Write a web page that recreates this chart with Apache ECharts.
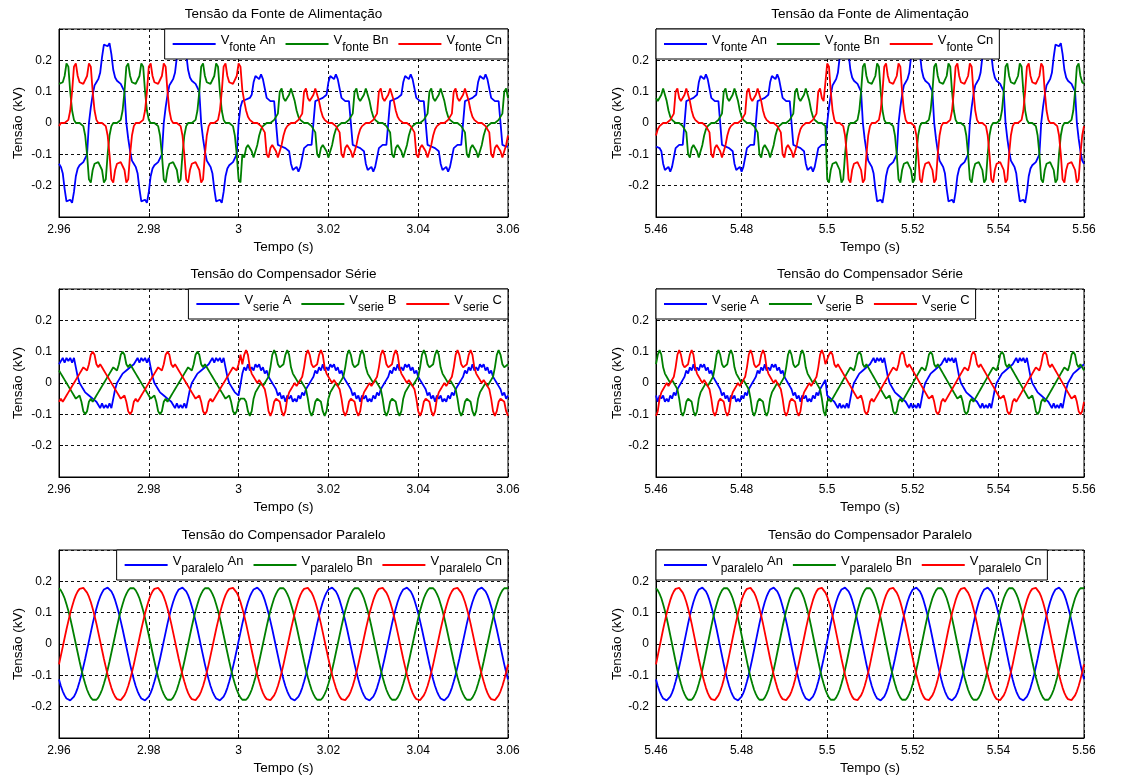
<!DOCTYPE html>
<html><head><meta charset="utf-8">
<script src="https://cdn.jsdelivr.net/npm/echarts@6/dist/echarts.min.js"></script>
<style>html,body{margin:0;padding:0;background:#fff}#c{width:1137px;height:778px}</style>
</head><body><div id="c"></div>
<script>
// sample spacing of all waveforms (s) and start times of the two columns
const DT = 1 / 2400;
const T0_LEFT = 2.96, T0_RIGHT = 5.46;
const X_TICK_STEP = 0.02;
const Y_TICKS = [-0.2, -0.1, 0, 0.1, 0.2];

// ---------- Tensão da Fonte de Alimentação (kV) ----------
const fonteLeftA = [
-.13,-.14,-.16,-.21,-.25,-.255,-.245,-.255,-.22,-.17,
-.145,-.135,-.13,-.125,-.12,-.1,0,.05,.09,.12,
.13,.14,.16,.21,.25,.255,.245,.255,.22,.17,
.145,.135,.13,.125,.12,.1,0,-.05,-.09,-.12,
-.13,-.14,-.16,-.21,-.25,-.255,-.245,-.255,-.22,-.17,
-.145,-.135,-.13,-.125,-.12,-.1,0,.05,.09,.12,
.13,.14,.16,.21,.25,.255,.245,.255,.22,.17,
.145,.135,.13,.125,.12,.1,0,-.05,-.09,-.12,
-.13,-.14,-.16,-.21,-.25,-.255,-.245,-.255,-.22,-.17,
-.145,-.135,-.13,-.125,-.12,-.1,0,.05,.07,.075,
.075,.08,.08,.09,.13,.15,.155,.14,.155,.14,
.11,.08,.075,.07,.075,.07,.07,-.07,-.07,-.075,
-.075,-.08,-.08,-.09,-.13,-.15,-.155,-.14,-.155,-.14,
-.11,-.08,-.075,-.07,-.075,-.07,-.07,.07,.07,.075,
.075,.08,.08,.09,.13,.15,.155,.14,.155,.14,
.11,.08,.075,.07,.075,.07,.07,-.07,-.07,-.075,
-.075,-.08,-.08,-.09,-.13,-.15,-.155,-.14,-.155,-.14,
-.11,-.08,-.075,-.07,-.075,-.07,-.07,.07,.07,.075,
.075,.08,.08,.09,.13,.15,.155,.14,.155,.14,
.11,.08,.075,.07,.075,.07,.07,-.07,-.07,-.075,
-.075,-.08,-.08,-.09,-.13,-.15,-.155,-.14,-.155,-.14,
-.11,-.08,-.075,-.07,-.075,-.07,-.07,.07,.07,.075,
.075,.08,.08,.09,.13,.15,.155,.14,.155,.14,
.11,.08,.075,.07,.075,.07,.07,-.07,-.07,-.075,
-.075];
const fonteLeftB = [
.125,.125,.13,.15,.19,.18,.1,.04,.01,0,
0,0,0,-.01,-.04,-.1,-.18,-.19,-.15,-.13,
-.125,-.125,-.13,-.15,-.19,-.18,-.1,-.04,-.01,0,
0,0,0,.01,.04,.1,.18,.19,.15,.13,
.125,.125,.13,.15,.19,.18,.1,.04,.01,0,
0,0,0,-.01,-.04,-.1,-.18,-.19,-.15,-.13,
-.125,-.125,-.13,-.15,-.19,-.18,-.1,-.04,-.01,0,
0,0,0,.01,.04,.1,.18,.19,.15,.13,
.125,.125,.13,.15,.19,.18,.1,.04,.01,0,
0,0,0,-.01,-.04,-.1,-.18,-.19,-.1,-.11,
-.08,-.07,-.075,-.09,-.11,-.105,-.07,-.04,-.02,-.01,
-.005,0,0,0,.005,.01,.01,.03,.1,.11,
.08,.07,.075,.09,.11,.105,.07,.04,.02,.01,
.005,0,0,0,-.005,-.01,-.01,-.03,-.1,-.11,
-.08,-.07,-.075,-.09,-.11,-.105,-.07,-.04,-.02,-.01,
-.005,0,0,0,.005,.01,.01,.03,.1,.11,
.08,.07,.075,.09,.11,.105,.07,.04,.02,.01,
.005,0,0,0,-.005,-.01,-.01,-.03,-.1,-.11,
-.08,-.07,-.075,-.09,-.11,-.105,-.07,-.04,-.02,-.01,
-.005,0,0,0,.005,.01,.01,.03,.1,.11,
.08,.07,.075,.09,.11,.105,.07,.04,.02,.01,
.005,0,0,0,-.005,-.01,-.01,-.03,-.1,-.11,
-.08,-.07,-.075,-.09,-.11,-.105,-.07,-.04,-.02,-.01,
-.005,0,0,0,.005,.01,.01,.03,.1,.11,
.08];
const fonteLeftC = [
-.01,0,0,0,0,.01,.04,.1,.18,.19,
.15,.13,.125,.125,.13,.15,.19,.18,.1,.04,
.01,0,0,0,0,-.01,-.04,-.1,-.18,-.19,
-.15,-.13,-.125,-.125,-.13,-.15,-.19,-.18,-.1,-.04,
-.01,0,0,0,0,.01,.04,.1,.18,.19,
.15,.13,.125,.125,.13,.15,.19,.18,.1,.04,
.01,0,0,0,0,-.01,-.04,-.1,-.18,-.19,
-.15,-.13,-.125,-.125,-.13,-.15,-.19,-.18,-.1,-.04,
-.01,0,0,0,0,.01,.04,.1,.18,.19,
.15,.13,.125,.125,.13,.15,.19,.18,.105,.07,
.04,.02,.01,.005,0,0,0,-.005,-.01,-.01,
-.03,-.1,-.11,-.08,-.07,-.075,-.09,-.11,-.105,-.07,
-.04,-.02,-.01,-.005,0,0,0,.005,.01,.01,
.03,.1,.11,.08,.07,.075,.09,.11,.105,.07,
.04,.02,.01,.005,0,0,0,-.005,-.01,-.01,
-.03,-.1,-.11,-.08,-.07,-.075,-.09,-.11,-.105,-.07,
-.04,-.02,-.01,-.005,0,0,0,.005,.01,.01,
.03,.1,.11,.08,.07,.075,.09,.11,.105,.07,
.04,.02,.01,.005,0,0,0,-.005,-.01,-.01,
-.03,-.1,-.11,-.08,-.07,-.075,-.09,-.11,-.105,-.07,
-.04,-.02,-.01,-.005,0,0,0,.005,.01,.01,
.03,.1,.11,.08,.07,.075,.09,.11,.105,.07,
.04,.02,.01,.005,0,0,0,-.005,-.01,-.01,
-.03,-.1,-.11,-.08,-.07,-.075,-.09,-.11,-.105,-.07,
-.04];
const fonteRightA = [
-.075,-.08,-.08,-.09,-.13,-.15,-.155,-.14,-.155,-.14,
-.11,-.08,-.075,-.07,-.075,-.07,-.07,.07,.07,.075,
.075,.08,.08,.09,.13,.15,.155,.14,.155,.14,
.11,.08,.075,.07,.075,.07,.07,-.07,-.07,-.075,
-.075,-.08,-.08,-.09,-.13,-.15,-.155,-.14,-.155,-.14,
-.11,-.08,-.075,-.07,-.075,-.07,-.07,.07,.07,.075,
.075,.08,.08,.09,.13,.15,.155,.14,.155,.14,
.11,.08,.075,.07,.075,.07,.07,-.07,-.07,-.075,
-.075,-.08,-.08,-.09,-.13,-.15,-.155,-.14,-.155,-.14,
-.11,-.08,-.075,-.07,-.075,-.07,0,.05,.09,.12,
.13,.14,.16,.21,.25,.255,.245,.255,.22,.17,
.145,.135,.13,.125,.12,.1,0,-.05,-.09,-.12,
-.13,-.14,-.16,-.21,-.25,-.255,-.245,-.255,-.22,-.17,
-.145,-.135,-.13,-.125,-.12,-.1,0,.05,.09,.12,
.13,.14,.16,.21,.25,.255,.245,.255,.22,.17,
.145,.135,.13,.125,.12,.1,0,-.05,-.09,-.12,
-.13,-.14,-.16,-.21,-.25,-.255,-.245,-.255,-.22,-.17,
-.145,-.135,-.13,-.125,-.12,-.1,0,.05,.09,.12,
.13,.14,.16,.21,.25,.255,.245,.255,.22,.17,
.145,.135,.13,.125,.12,.1,0,-.05,-.09,-.12,
-.13,-.14,-.16,-.21,-.25,-.255,-.245,-.255,-.22,-.17,
-.145,-.135,-.13,-.125,-.12,-.1,0,.05,.09,.12,
.13,.14,.16,.21,.25,.255,.245,.255,.22,.17,
.145,.135,.13,.125,.12,.1,0,-.05,-.09,-.12,
-.13];
const fonteRightB = [
.08,.07,.075,.09,.11,.105,.07,.04,.02,.01,
.005,0,0,0,-.005,-.01,-.01,-.03,-.1,-.11,
-.08,-.07,-.075,-.09,-.11,-.105,-.07,-.04,-.02,-.01,
-.005,0,0,0,.005,.01,.01,.03,.1,.11,
.08,.07,.075,.09,.11,.105,.07,.04,.02,.01,
.005,0,0,0,-.005,-.01,-.01,-.03,-.1,-.11,
-.08,-.07,-.075,-.09,-.11,-.105,-.07,-.04,-.02,-.01,
-.005,0,0,0,.005,.01,.01,.03,.1,.11,
.08,.07,.075,.09,.11,.105,.07,.04,.02,.01,
.005,0,0,0,-.005,-.01,-.18,-.19,-.15,-.13,
-.125,-.125,-.13,-.15,-.19,-.18,-.1,-.04,-.01,0,
0,0,0,.01,.04,.1,.18,.19,.15,.13,
.125,.125,.13,.15,.19,.18,.1,.04,.01,0,
0,0,0,-.01,-.04,-.1,-.18,-.19,-.15,-.13,
-.125,-.125,-.13,-.15,-.19,-.18,-.1,-.04,-.01,0,
0,0,0,.01,.04,.1,.18,.19,.15,.13,
.125,.125,.13,.15,.19,.18,.1,.04,.01,0,
0,0,0,-.01,-.04,-.1,-.18,-.19,-.15,-.13,
-.125,-.125,-.13,-.15,-.19,-.18,-.1,-.04,-.01,0,
0,0,0,.01,.04,.1,.18,.19,.15,.13,
.125,.125,.13,.15,.19,.18,.1,.04,.01,0,
0,0,0,-.01,-.04,-.1,-.18,-.19,-.15,-.13,
-.125,-.125,-.13,-.15,-.19,-.18,-.1,-.04,-.01,0,
0,0,0,.01,.04,.1,.18,.19,.15,.13,
.125];
const fonteRightC = [
-.04,-.02,-.01,-.005,0,0,0,.005,.01,.01,
.03,.1,.11,.08,.07,.075,.09,.11,.105,.07,
.04,.02,.01,.005,0,0,0,-.005,-.01,-.01,
-.03,-.1,-.11,-.08,-.07,-.075,-.09,-.11,-.105,-.07,
-.04,-.02,-.01,-.005,0,0,0,.005,.01,.01,
.03,.1,.11,.08,.07,.075,.09,.11,.105,.07,
.04,.02,.01,.005,0,0,0,-.005,-.01,-.01,
-.03,-.1,-.11,-.08,-.07,-.075,-.09,-.11,-.105,-.07,
-.04,-.02,-.01,-.005,0,0,0,.005,.01,.01,
.03,.1,.11,.08,.07,.075,.19,.18,.1,.04,
.01,0,0,0,0,-.01,-.04,-.1,-.18,-.19,
-.15,-.13,-.125,-.125,-.13,-.15,-.19,-.18,-.1,-.04,
-.01,0,0,0,0,.01,.04,.1,.18,.19,
.15,.13,.125,.125,.13,.15,.19,.18,.1,.04,
.01,0,0,0,0,-.01,-.04,-.1,-.18,-.19,
-.15,-.13,-.125,-.125,-.13,-.15,-.19,-.18,-.1,-.04,
-.01,0,0,0,0,.01,.04,.1,.18,.19,
.15,.13,.125,.125,.13,.15,.19,.18,.1,.04,
.01,0,0,0,0,-.01,-.04,-.1,-.18,-.19,
-.15,-.13,-.125,-.125,-.13,-.15,-.19,-.18,-.1,-.04,
-.01,0,0,0,0,.01,.04,.1,.18,.19,
.15,.13,.125,.125,.13,.15,.19,.18,.1,.04,
.01,0,0,0,0,-.01,-.04,-.1,-.18,-.19,
-.15,-.13,-.125,-.125,-.13,-.15,-.19,-.18,-.1,-.04,
-.01];

// ---------- Tensão do Compensador Série (kV) ----------
const serieLeftA = [
.06,.06,.08,.065,.08,.07,.08,.065,.08,.05,
.02,0,-.01,-.02,-.03,-.03,-.04,-.04,-.05,-.05,
-.06,-.06,-.08,-.065,-.08,-.07,-.08,-.065,-.08,-.05,
-.02,0,.01,.02,.03,.03,.04,.04,.05,.05,
.06,.06,.08,.065,.08,.07,.08,.065,.08,.05,
.02,0,-.01,-.02,-.03,-.03,-.04,-.04,-.05,-.05,
-.06,-.06,-.08,-.065,-.08,-.07,-.08,-.065,-.08,-.05,
-.02,0,.01,.02,.03,.03,.04,.04,.05,.05,
.06,.06,.08,.065,.08,.07,.08,.065,.08,.05,
.02,0,-.01,-.02,-.03,-.03,-.04,-.04,.03,.05,
.04,.06,.04,.05,.04,.06,.05,.06,.04,.05,
.03,.04,.02,.01,0,-.01,-.02,-.04,-.03,-.05,
-.04,-.06,-.04,-.05,-.04,-.06,-.05,-.06,-.04,-.05,
-.03,-.04,-.02,-.01,0,.01,.02,.04,.03,.05,
.04,.06,.04,.05,.04,.06,.05,.06,.04,.05,
.03,.04,.02,.01,0,-.01,-.02,-.04,-.03,-.05,
-.04,-.06,-.04,-.05,-.04,-.06,-.05,-.06,-.04,-.05,
-.03,-.04,-.02,-.01,0,.01,.02,.04,.03,.05,
.04,.06,.04,.05,.04,.06,.05,.06,.04,.05,
.03,.04,.02,.01,0,-.01,-.02,-.04,-.03,-.05,
-.04,-.06,-.04,-.05,-.04,-.06,-.05,-.06,-.04,-.05,
-.03,-.04,-.02,-.01,0,.01,.02,.04,.03,.05,
.04,.06,.04,.05,.04,.06,.05,.06,.04,.05,
.03,.04,.02,.01,0,-.01,-.02,-.04,-.03,-.05,
-.04];
const serieLeftB = [
.04,.03,.02,.01,0,-.01,-.02,-.03,-.04,-.05,
-.05,-.04,-.06,-.09,-.1,-.09,-.06,-.05,-.06,-.05,
-.04,-.03,-.02,-.01,0,.01,.02,.03,.04,.05,
.05,.04,.06,.09,.1,.09,.06,.05,.06,.05,
.04,.03,.02,.01,0,-.01,-.02,-.03,-.04,-.05,
-.05,-.04,-.06,-.09,-.1,-.09,-.06,-.05,-.06,-.05,
-.04,-.03,-.02,-.01,0,.01,.02,.03,.04,.05,
.05,.04,.06,.09,.1,.09,.06,.05,.06,.05,
.04,.03,.02,.01,0,-.01,-.02,-.03,-.04,-.05,
-.05,-.04,-.06,-.09,-.1,-.09,-.06,-.05,-.05,-.05,
-.06,-.09,-.105,-.09,-.05,-.03,-.02,-.01,0,-.01,
0,.01,.02,.05,.09,.105,.09,.06,.05,.05,
.06,.09,.105,.09,.05,.03,.02,.01,0,.01,
0,-.01,-.02,-.05,-.09,-.105,-.09,-.06,-.05,-.05,
-.06,-.09,-.105,-.09,-.05,-.03,-.02,-.01,0,-.01,
0,.01,.02,.05,.09,.105,.09,.06,.05,.05,
.06,.09,.105,.09,.05,.03,.02,.01,0,.01,
0,-.01,-.02,-.05,-.09,-.105,-.09,-.06,-.05,-.05,
-.06,-.09,-.105,-.09,-.05,-.03,-.02,-.01,0,-.01,
0,.01,.02,.05,.09,.105,.09,.06,.05,.05,
.06,.09,.105,.09,.05,.03,.02,.01,0,.01,
0,-.01,-.02,-.05,-.09,-.105,-.09,-.06,-.05,-.05,
-.06,-.09,-.105,-.09,-.05,-.03,-.02,-.01,0,-.01,
0,.01,.02,.05,.09,.105,.09,.06,.05,.05,
.06];
const serieLeftC = [
-.06,-.05,-.06,-.05,-.04,-.03,-.02,-.01,0,.01,
.02,.03,.04,.05,.05,.04,.06,.09,.1,.09,
.06,.05,.06,.05,.04,.03,.02,.01,0,-.01,
-.02,-.03,-.04,-.05,-.05,-.04,-.06,-.09,-.1,-.09,
-.06,-.05,-.06,-.05,-.04,-.03,-.02,-.01,0,.01,
.02,.03,.04,.05,.05,.04,.06,.09,.1,.09,
.06,.05,.06,.05,.04,.03,.02,.01,0,-.01,
-.02,-.03,-.04,-.05,-.05,-.04,-.06,-.09,-.1,-.09,
-.06,-.05,-.06,-.05,-.04,-.03,-.02,-.01,0,.01,
.02,.03,.04,.05,.05,.04,.06,.09,.06,.09,
.105,.09,.05,.03,.02,.01,0,.01,0,-.01,
-.02,-.05,-.09,-.105,-.09,-.06,-.05,-.05,-.06,-.09,
-.105,-.09,-.05,-.03,-.02,-.01,0,-.01,0,.01,
.02,.05,.09,.105,.09,.06,.05,.05,.06,.09,
.105,.09,.05,.03,.02,.01,0,.01,0,-.01,
-.02,-.05,-.09,-.105,-.09,-.06,-.05,-.05,-.06,-.09,
-.105,-.09,-.05,-.03,-.02,-.01,0,-.01,0,.01,
.02,.05,.09,.105,.09,.06,.05,.05,.06,.09,
.105,.09,.05,.03,.02,.01,0,.01,0,-.01,
-.02,-.05,-.09,-.105,-.09,-.06,-.05,-.05,-.06,-.09,
-.105,-.09,-.05,-.03,-.02,-.01,0,-.01,0,.01,
.02,.05,.09,.105,.09,.06,.05,.05,.06,.09,
.105,.09,.05,.03,.02,.01,0,.01,0,-.01,
-.02,-.05,-.09,-.105,-.09,-.06,-.05,-.05,-.06,-.09,
-.105];
const serieRightA = [
-.04,-.06,-.04,-.05,-.04,-.06,-.05,-.06,-.04,-.05,
-.03,-.04,-.02,-.01,0,.01,.02,.04,.03,.05,
.04,.06,.04,.05,.04,.06,.05,.06,.04,.05,
.03,.04,.02,.01,0,-.01,-.02,-.04,-.03,-.05,
-.04,-.06,-.04,-.05,-.04,-.06,-.05,-.06,-.04,-.05,
-.03,-.04,-.02,-.01,0,.01,.02,.04,.03,.05,
.04,.06,.04,.05,.04,.06,.05,.06,.04,.05,
.03,.04,.02,.01,0,-.01,-.02,-.04,-.03,-.05,
-.04,-.06,-.04,-.05,-.04,-.06,-.05,-.06,-.04,-.05,
-.03,-.04,-.02,-.01,0,.01,-.04,-.04,-.05,-.05,
-.06,-.06,-.08,-.065,-.08,-.07,-.08,-.065,-.08,-.05,
-.02,0,.01,.02,.03,.03,.04,.04,.05,.05,
.06,.06,.08,.065,.08,.07,.08,.065,.08,.05,
.02,0,-.01,-.02,-.03,-.03,-.04,-.04,-.05,-.05,
-.06,-.06,-.08,-.065,-.08,-.07,-.08,-.065,-.08,-.05,
-.02,0,.01,.02,.03,.03,.04,.04,.05,.05,
.06,.06,.08,.065,.08,.07,.08,.065,.08,.05,
.02,0,-.01,-.02,-.03,-.03,-.04,-.04,-.05,-.05,
-.06,-.06,-.08,-.065,-.08,-.07,-.08,-.065,-.08,-.05,
-.02,0,.01,.02,.03,.03,.04,.04,.05,.05,
.06,.06,.08,.065,.08,.07,.08,.065,.08,.05,
.02,0,-.01,-.02,-.03,-.03,-.04,-.04,-.05,-.05,
-.06,-.06,-.08,-.065,-.08,-.07,-.08,-.065,-.08,-.05,
-.02,0,.01,.02,.03,.03,.04,.04,.05,.05,
.06];
const serieRightB = [
.06,.09,.105,.09,.05,.03,.02,.01,0,.01,
0,-.01,-.02,-.05,-.09,-.105,-.09,-.06,-.05,-.05,
-.06,-.09,-.105,-.09,-.05,-.03,-.02,-.01,0,-.01,
0,.01,.02,.05,.09,.105,.09,.06,.05,.05,
.06,.09,.105,.09,.05,.03,.02,.01,0,.01,
0,-.01,-.02,-.05,-.09,-.105,-.09,-.06,-.05,-.05,
-.06,-.09,-.105,-.09,-.05,-.03,-.02,-.01,0,-.01,
0,.01,.02,.05,.09,.105,.09,.06,.05,.05,
.06,.09,.105,.09,.05,.03,.02,.01,0,.01,
0,-.01,-.02,-.05,-.09,-.105,-.06,-.05,-.06,-.05,
-.04,-.03,-.02,-.01,0,.01,.02,.03,.04,.05,
.05,.04,.06,.09,.1,.09,.06,.05,.06,.05,
.04,.03,.02,.01,0,-.01,-.02,-.03,-.04,-.05,
-.05,-.04,-.06,-.09,-.1,-.09,-.06,-.05,-.06,-.05,
-.04,-.03,-.02,-.01,0,.01,.02,.03,.04,.05,
.05,.04,.06,.09,.1,.09,.06,.05,.06,.05,
.04,.03,.02,.01,0,-.01,-.02,-.03,-.04,-.05,
-.05,-.04,-.06,-.09,-.1,-.09,-.06,-.05,-.06,-.05,
-.04,-.03,-.02,-.01,0,.01,.02,.03,.04,.05,
.05,.04,.06,.09,.1,.09,.06,.05,.06,.05,
.04,.03,.02,.01,0,-.01,-.02,-.03,-.04,-.05,
-.05,-.04,-.06,-.09,-.1,-.09,-.06,-.05,-.06,-.05,
-.04,-.03,-.02,-.01,0,.01,.02,.03,.04,.05,
.05,.04,.06,.09,.1,.09,.06,.05,.06,.05,
.04];
const serieRightC = [
-.105,-.09,-.05,-.03,-.02,-.01,0,-.01,0,.01,
.02,.05,.09,.105,.09,.06,.05,.05,.06,.09,
.105,.09,.05,.03,.02,.01,0,.01,0,-.01,
-.02,-.05,-.09,-.105,-.09,-.06,-.05,-.05,-.06,-.09,
-.105,-.09,-.05,-.03,-.02,-.01,0,-.01,0,.01,
.02,.05,.09,.105,.09,.06,.05,.05,.06,.09,
.105,.09,.05,.03,.02,.01,0,.01,0,-.01,
-.02,-.05,-.09,-.105,-.09,-.06,-.05,-.05,-.06,-.09,
-.105,-.09,-.05,-.03,-.02,-.01,0,-.01,0,.01,
.02,.05,.09,.105,.09,.06,.06,.09,.1,.09,
.06,.05,.06,.05,.04,.03,.02,.01,0,-.01,
-.02,-.03,-.04,-.05,-.05,-.04,-.06,-.09,-.1,-.09,
-.06,-.05,-.06,-.05,-.04,-.03,-.02,-.01,0,.01,
.02,.03,.04,.05,.05,.04,.06,.09,.1,.09,
.06,.05,.06,.05,.04,.03,.02,.01,0,-.01,
-.02,-.03,-.04,-.05,-.05,-.04,-.06,-.09,-.1,-.09,
-.06,-.05,-.06,-.05,-.04,-.03,-.02,-.01,0,.01,
.02,.03,.04,.05,.05,.04,.06,.09,.1,.09,
.06,.05,.06,.05,.04,.03,.02,.01,0,-.01,
-.02,-.03,-.04,-.05,-.05,-.04,-.06,-.09,-.1,-.09,
-.06,-.05,-.06,-.05,-.04,-.03,-.02,-.01,0,.01,
.02,.03,.04,.05,.05,.04,.06,.09,.1,.09,
.06,.05,.06,.05,.04,.03,.02,.01,0,-.01,
-.02,-.03,-.04,-.05,-.05,-.04,-.06,-.09,-.1,-.09,
-.06];

// ---------- Tensão do Compensador Paralelo (kV), same in both columns ----------
const paraleloA = [
-.113,-.134,-.151,-.164,-.174,-.179,-.18,-.176,-.168,-.156,
-.14,-.12,-.098,-.073,-.047,-.019,.009,.037,.065,.09,
.113,.134,.151,.164,.174,.179,.18,.176,.168,.156,
.14,.12,.098,.073,.047,.019,-.009,-.037,-.065,-.09,
-.113,-.134,-.151,-.164,-.174,-.179,-.18,-.176,-.168,-.156,
-.14,-.12,-.098,-.073,-.047,-.019,.009,.037,.065,.09,
.113,.134,.151,.164,.174,.179,.18,.176,.168,.156,
.14,.12,.098,.073,.047,.019,-.009,-.037,-.065,-.09,
-.113,-.134,-.151,-.164,-.174,-.179,-.18,-.176,-.168,-.156,
-.14,-.12,-.098,-.073,-.047,-.019,.009,.037,.065,.09,
.113,.134,.151,.164,.174,.179,.18,.176,.168,.156,
.14,.12,.098,.073,.047,.019,-.009,-.037,-.065,-.09,
-.113,-.134,-.151,-.164,-.174,-.179,-.18,-.176,-.168,-.156,
-.14,-.12,-.098,-.073,-.047,-.019,.009,.037,.065,.09,
.113,.134,.151,.164,.174,.179,.18,.176,.168,.156,
.14,.12,.098,.073,.047,.019,-.009,-.037,-.065,-.09,
-.113,-.134,-.151,-.164,-.174,-.179,-.18,-.176,-.168,-.156,
-.14,-.12,-.098,-.073,-.047,-.019,.009,.037,.065,.09,
.113,.134,.151,.164,.174,.179,.18,.176,.168,.156,
.14,.12,.098,.073,.047,.019,-.009,-.037,-.065,-.09,
-.113,-.134,-.151,-.164,-.174,-.179,-.18,-.176,-.168,-.156,
-.14,-.12,-.098,-.073,-.047,-.019,.009,.037,.065,.09,
.113,.134,.151,.164,.174,.179,.18,.176,.168,.156,
.14,.12,.098,.073,.047,.019,-.009,-.037,-.065,-.09,
-.113];
const paraleloB = [
.178,.171,.16,.146,.127,.106,.082,.056,.028,0,
-.028,-.056,-.082,-.106,-.127,-.146,-.16,-.171,-.178,-.18,
-.178,-.171,-.16,-.146,-.127,-.106,-.082,-.056,-.028,0,
.028,.056,.082,.106,.127,.146,.16,.171,.178,.18,
.178,.171,.16,.146,.127,.106,.082,.056,.028,0,
-.028,-.056,-.082,-.106,-.127,-.146,-.16,-.171,-.178,-.18,
-.178,-.171,-.16,-.146,-.127,-.106,-.082,-.056,-.028,0,
.028,.056,.082,.106,.127,.146,.16,.171,.178,.18,
.178,.171,.16,.146,.127,.106,.082,.056,.028,0,
-.028,-.056,-.082,-.106,-.127,-.146,-.16,-.171,-.178,-.18,
-.178,-.171,-.16,-.146,-.127,-.106,-.082,-.056,-.028,0,
.028,.056,.082,.106,.127,.146,.16,.171,.178,.18,
.178,.171,.16,.146,.127,.106,.082,.056,.028,0,
-.028,-.056,-.082,-.106,-.127,-.146,-.16,-.171,-.178,-.18,
-.178,-.171,-.16,-.146,-.127,-.106,-.082,-.056,-.028,0,
.028,.056,.082,.106,.127,.146,.16,.171,.178,.18,
.178,.171,.16,.146,.127,.106,.082,.056,.028,0,
-.028,-.056,-.082,-.106,-.127,-.146,-.16,-.171,-.178,-.18,
-.178,-.171,-.16,-.146,-.127,-.106,-.082,-.056,-.028,0,
.028,.056,.082,.106,.127,.146,.16,.171,.178,.18,
.178,.171,.16,.146,.127,.106,.082,.056,.028,0,
-.028,-.056,-.082,-.106,-.127,-.146,-.16,-.171,-.178,-.18,
-.178,-.171,-.16,-.146,-.127,-.106,-.082,-.056,-.028,0,
.028,.056,.082,.106,.127,.146,.16,.171,.178,.18,
.178];
const paraleloC = [
-.065,-.037,-.009,.019,.047,.073,.098,.12,.14,.156,
.168,.176,.18,.179,.174,.164,.151,.134,.113,.09,
.065,.037,.009,-.019,-.047,-.073,-.098,-.12,-.14,-.156,
-.168,-.176,-.18,-.179,-.174,-.164,-.151,-.134,-.113,-.09,
-.065,-.037,-.009,.019,.047,.073,.098,.12,.14,.156,
.168,.176,.18,.179,.174,.164,.151,.134,.113,.09,
.065,.037,.009,-.019,-.047,-.073,-.098,-.12,-.14,-.156,
-.168,-.176,-.18,-.179,-.174,-.164,-.151,-.134,-.113,-.09,
-.065,-.037,-.009,.019,.047,.073,.098,.12,.14,.156,
.168,.176,.18,.179,.174,.164,.151,.134,.113,.09,
.065,.037,.009,-.019,-.047,-.073,-.098,-.12,-.14,-.156,
-.168,-.176,-.18,-.179,-.174,-.164,-.151,-.134,-.113,-.09,
-.065,-.037,-.009,.019,.047,.073,.098,.12,.14,.156,
.168,.176,.18,.179,.174,.164,.151,.134,.113,.09,
.065,.037,.009,-.019,-.047,-.073,-.098,-.12,-.14,-.156,
-.168,-.176,-.18,-.179,-.174,-.164,-.151,-.134,-.113,-.09,
-.065,-.037,-.009,.019,.047,.073,.098,.12,.14,.156,
.168,.176,.18,.179,.174,.164,.151,.134,.113,.09,
.065,.037,.009,-.019,-.047,-.073,-.098,-.12,-.14,-.156,
-.168,-.176,-.18,-.179,-.174,-.164,-.151,-.134,-.113,-.09,
-.065,-.037,-.009,.019,.047,.073,.098,.12,.14,.156,
.168,.176,.18,.179,.174,.164,.151,.134,.113,.09,
.065,.037,.009,-.019,-.047,-.073,-.098,-.12,-.14,-.156,
-.168,-.176,-.18,-.179,-.174,-.164,-.151,-.134,-.113,-.09,
-.065];

const TITLES = ['Tensão da Fonte de Alimentação', 'Tensão do Compensador Série', 'Tensão do Compensador Paralelo'];
const SERIES_NAMES = [['fA','fB','fC'], ['sA','sB','sC'], ['pA','pB','pC']];
const LEGEND_TEXT = {
  fA:['fonte',' An'], fB:['fonte',' Bn'], fC:['fonte',' Cn'],
  sA:['serie',' A'],  sB:['serie',' B'],  sC:['serie',' C'],
  pA:['paralelo',' An'], pB:['paralelo',' Bn'], pC:['paralelo',' Cn']
};
const DATA = [
  [[fonteLeftA, fonteLeftB, fonteLeftC], [fonteRightA, fonteRightB, fonteRightC]],
  [[serieLeftA, serieLeftB, serieLeftC], [serieRightA, serieRightB, serieRightC]],
  [[paraleloA, paraleloB, paraleloC], [paraleloA, paraleloB, paraleloC]]
];

// ---------- layout / style ----------
const FONT = '"Liberation Sans", Arial, Helvetica, sans-serif';
const COLORS = ['#0000ff', '#008000', '#ff0000'];
const ROW_TOP = [29, 289, 550];
const COL = [{left: 59, width: 449, t0: T0_LEFT, nameGap: 34}, {left: 656, width: 428, t0: T0_RIGHT, nameGap: 32}];
const PLOT_H = 188;
const W = 1137;

const grids = [], xAxes = [], yAxes = [], series = [], legends = [], graphics = [];
const dash = {color: '#111', type: [3, 3], width: 1};
const axisLine = {show: true, onZero: false, lineStyle: {color: '#000', width: 1}};
const tick = {show: true, inside: true, length: 4, lineStyle: {color: '#000'}};
const lblStyle = {color: '#000', fontSize: 12, fontFamily: FONT};
const nameStyle = {color: '#000', fontSize: 13.5, fontFamily: FONT};

for (let r = 0; r < 3; r++) {
  for (let c = 0; c < 2; c++) {
    const gi = grids.length;
    const col = COL[c], top = ROW_TOP[r];
    grids.push({left: col.left, top: top, width: col.width, height: PLOT_H, show: true,
      borderColor: '#000', borderWidth: 1, backgroundColor: '#fff'});
    xAxes.push({type: 'value', gridIndex: gi, min: col.t0, max: col.t0 + 0.1, interval: X_TICK_STEP,
      name: 'Tempo (s)', nameLocation: 'middle', nameGap: 23, nameTextStyle: nameStyle, nameMoveOverlap: false,
      axisLine: axisLine, axisTick: tick,
      axisLabel: Object.assign({margin: 7, showMinLabel: true, showMaxLabel: true, hideOverlap: false,
        formatter: v => String(Math.round(v * 100) / 100)}, lblStyle),
      splitLine: {show: true, lineStyle: dash}});
    yAxes.push({type: 'value', gridIndex: gi, min: -0.3, max: 0.3, interval: 0.1,
      name: 'Tensão (kV)', nameLocation: 'middle', nameRotate: 90, nameGap: col.nameGap, nameTextStyle: nameStyle, nameMoveOverlap: false,
      axisLine: axisLine, axisTick: tick,
      axisLabel: Object.assign({margin: 7, showMinLabel: true, showMaxLabel: true,
        formatter: v => {
          const q = Math.round(v * 10) / 10;
          return Y_TICKS.some(t => Math.abs(t - q) < 1e-9) ? String(q === 0 ? 0 : q) : '';
        }}, lblStyle),
      splitLine: {show: true, lineStyle: dash}});
    DATA[r][c].forEach((arr, s) => {
      series.push({type: 'line', name: SERIES_NAMES[r][s], xAxisIndex: gi, yAxisIndex: gi,
        data: arr.map((v, i) => [col.t0 + i * DT, v]),
        symbol: 'none', showSymbol: false, smooth: false, clip: true, silent: true,
        lineStyle: {color: COLORS[s], width: 1.8}, itemStyle: {color: COLORS[s]},
        emphasis: {disabled: true}, animation: false, z: 2});
    });
    const lg = {data: SERIES_NAMES[r], top: top, orient: 'horizontal',
      icon: 'rect', itemWidth: 43, itemHeight: 2, itemGap: 10,
      padding: [5, 6, 5, 8], backgroundColor: '#fff', borderColor: '#000', borderWidth: 1, borderRadius: 0,
      selectedMode: false, z: 10, itemStyle: {borderWidth: 0},
      formatter: n => '{m|V}{s|' + LEGEND_TEXT[n][0] + '}{m|' + LEGEND_TEXT[n][1] + '}',
      textStyle: {color: '#000', fontFamily: FONT, fontSize: 13,
        rich: {m: {fontSize: 13, fontFamily: FONT, color: '#000', padding: [0, 0, 7, 0]},
               s: {fontSize: 12, fontFamily: FONT, color: '#000', padding: [8, 0, 0, 0]}}}};
    if (c === 0) lg.right = W - (col.left + col.width); else lg.left = col.left;
    legends.push(lg);
    graphics.push({type: 'text', x: col.left + col.width / 2, y: top - 15, z: 20,
      style: {text: TITLES[r], textAlign: 'center', textVerticalAlign: 'middle', font: '13.5px ' + FONT, fill: '#000'}});
  }
}

const chart = echarts.init(document.getElementById('c'), null, {renderer: 'canvas'});
chart.setOption({
  animation: false, backgroundColor: '#fff',
  grid: grids, xAxis: xAxes, yAxis: yAxes, series: series, legend: legends, graphic: graphics
});
</script></body></html>
